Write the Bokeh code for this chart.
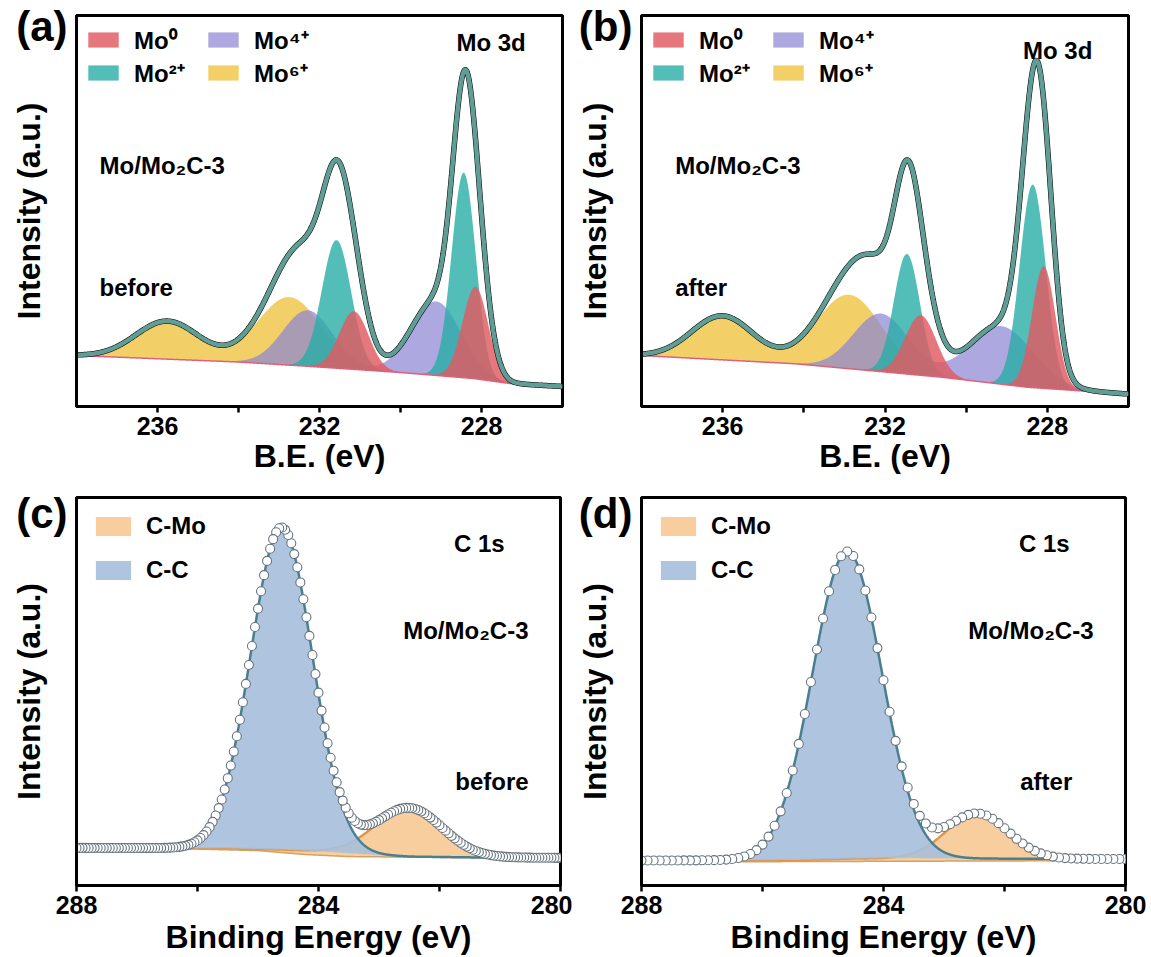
import numpy as np
from bokeh.plotting import figure
from bokeh.models import Range1d, FixedTicker, Legend, LegendItem, Label
from bokeh.layouts import row, column
from bokeh.embed import file_html
from bokeh.resources import INLINE

FONT = "Liberation Sans"

# ---------------- values ----------------
# Mo 3d peaks: [3d5/2, 3d3/2] centre (eV), height (px above background), FWHM (eV)
mo_labels = ["Mo⁰", "Mo²⁺", "Mo⁴⁺", "Mo⁶⁺"]
mo_colors = ["#e05a60", "#28aca6", "#8d86d4", "#f0c23c"]
mo_alpha = [0.82, 0.80, 0.72, 0.78]

# panel (a) - before
a_mo0_center = [228.15, 231.15]; a_mo0_height = [92, 58];  a_mo0_fwhm = [0.75, 0.85]
a_mo2_center = [228.44, 231.58]; a_mo2_height = [205, 128]; a_mo2_fwhm = [0.70, 0.85]
a_mo4_center = [229.12, 232.29]; a_mo4_height = [74, 56];  a_mo4_fwhm = [1.45, 1.45]
a_mo6_center = [232.74, 235.75]; a_mo6_height = [68, 38];  a_mo6_fwhm = [1.85, 1.85]
a_bg_energy = [226, 227.3, 228.2, 230, 232.2, 234, 238]
a_bg_level = [20, 23, 28, 34, 40, 44.5, 51]

# panel (b) - after
b_mo0_center = [228.09, 231.12]; b_mo0_height = [122, 60];  b_mo0_fwhm = [0.68, 0.90]
b_mo2_center = [228.36, 231.46]; b_mo2_height = [203, 120]; b_mo2_fwhm = [0.75, 0.75]
b_mo4_center = [229.13, 232.10]; b_mo4_height = [58, 58];  b_mo4_fwhm = [1.85, 1.60]
b_mo6_center = [232.88, 236.00]; b_mo6_height = [74, 44];  b_mo6_fwhm = [1.90, 1.80]
b_bg_energy = [226.1, 228.5, 230.6, 234.2, 238]
b_bg_level = [12.7, 19.3, 29.3, 42.7, 51]

# C 1s peaks: centre, height, FWHM
c_labels = ["C-Mo", "C-C"]
c_colors = ["#f8c994", "#a8c0dc"]
c_line_colors = ["#e39345", "#4a7f90"]

c_cmo = [282.51, 48.7, 1.30]
c_cc = [284.61, 323.0, 1.20]
c_bg_energy = [280, 281.5, 282.5, 283.0, 283.5, 284.0, 284.6, 285.5, 288]
c_bg_level = [27.7, 28.2, 29.0, 30.5, 32.5, 34.3, 36.0, 37.3, 37.7]
c_low_energy = [280, 282, 283.5, 284.2, 285, 286, 288]
c_low_level = [27.7, 28.2, 29.0, 31.0, 35.0, 36.5, 37.5]
c_step = 0.05

d_cmo = [282.45, 45.0, 1.20]
d_cc = [284.60, 308.0, 1.35]
d_bg_energy = [280, 282.5, 283.5, 284.5, 285.5, 288]
d_bg_level = [26.5, 27.0, 27.5, 27.0, 25.5, 25.0]
d_low_energy = [280, 288]
d_low_level = [25.0, 23.5]
d_step = 0.10

mo_xticks = [236, 232, 228]
mo_xminor = [234, 230]
c_xticks = [288, 284, 280]
c_xminor = [286, 282]
panel_tag_level = 380


def gauss(E, centers, heights, fwhms):
    out = np.zeros_like(E)
    for c, h, w in zip(centers, heights, fwhms):
        s = w / 2.3548
        out += h * np.exp(-((E - c) ** 2) / (2 * s * s))
    return out


def style(p, xticks, xminor, xlabel, tag, tag_w, xl_standoff):
    p.xgrid.visible = False
    p.ygrid.visible = False
    p.outline_line_color = "black"
    p.outline_line_width = 3
    p.background_fill_color = "white"
    p.border_fill_color = "white"
    xa = p.xaxis[0]
    xa.ticker = FixedTicker(ticks=xticks, minor_ticks=xminor)
    xa.axis_line_width = 3
    xa.major_tick_line_width = 2.5
    xa.minor_tick_line_width = 2.5
    xa.major_tick_out = 6
    xa.major_tick_in = 0
    xa.minor_tick_out = 6
    xa.minor_tick_in = 0
    xa.major_label_standoff = 4
    xa.major_label_text_font = FONT
    xa.major_label_text_font_style = "bold"
    xa.major_label_text_font_size = "25px"
    xa.major_label_text_color = "black"
    xa.axis_label = xlabel
    xa.axis_label_text_font = FONT
    xa.axis_label_text_font_style = "bold"
    xa.axis_label_text_font_size = "32px"
    xa.axis_label_text_color = "black"
    xa.axis_label_standoff = xl_standoff
    # left axis: no ticks; its single tick label carries the panel tag "(a)" etc.
    ya = p.yaxis[0]
    ya.ticker = FixedTicker(ticks=[panel_tag_level], minor_ticks=[])
    ya.major_label_overrides = {panel_tag_level: tag}
    ya.axis_line_width = 3
    ya.major_tick_line_color = None
    ya.minor_tick_line_color = None
    ya.major_tick_out = 0
    ya.major_tick_in = 0
    ya.minor_tick_out = 0
    ya.minor_tick_in = 0
    ya.major_label_standoff = 9
    ya.major_label_text_font = FONT
    ya.major_label_text_font_style = "bold"
    ya.major_label_text_font_size = "42px"
    ya.major_label_text_color = "black"
    ya.axis_label = "Intensity (a.u.)"
    ya.axis_label_text_font = FONT
    ya.axis_label_text_font_style = "bold"
    ya.axis_label_text_font_size = "32px"
    ya.axis_label_text_color = "black"
    ya.axis_label_standoff = 26 - 9 - tag_w


def add_text(p, x, y, txt, size="24px"):
    p.add_layout(Label(x=x, y=y, text=txt, text_font=FONT, text_font_style="bold",
                       text_font_size=size, text_color="black",
                       text_align="left", text_baseline="alphabetic"))


def mo_panel(peaks, bg_e, bg_v, width, left, right, tag, tag_w, state, pos):
    p = figure(width=width, height=486, x_range=Range1d(238, 226), y_range=Range1d(0, 391),
               output_backend="svg", toolbar_location=None,
               min_border_left=left, min_border_right=right, min_border_top=15, min_border_bottom=80)
    style(p, mo_xticks, mo_xminor, "B.E. (eV)", tag, tag_w, 0)
    E = np.linspace(226, 238, 1201)
    bg = np.interp(E, bg_e, bg_v)
    comps = [gauss(E, *pk) for pk in peaks]
    rmap = {}
    for i in [3, 2, 1, 0]:
        rmap[i] = p.varea(x=E, y1=bg, y2=bg + comps[i], fill_color=mo_colors[i], fill_alpha=mo_alpha[i])
    total = bg + sum(comps)
    p.line(E, bg, line_color="#e0607a", line_width=1.5)
    p.line(E, total, line_color="black", line_width=5.5)
    p.line(E, total, line_color="#5f9d95", line_width=4.5)
    items = [LegendItem(label=mo_labels[i], renderers=[rmap[i]]) for i in range(4)]
    leg = Legend(items=items, location="top_left", orientation="vertical", ncols=2,
                 glyph_width=38, glyph_height=19, label_standoff=12, spacing=-6,
                 label_width=70, padding=0, margin=8, background_fill_alpha=0,
                 border_line_color=None,
                 label_text_font=FONT, label_text_font_style="bold",
                 label_text_font_size="24px", label_text_color="black")
    p.add_layout(leg)
    add_text(p, pos[0], pos[1], "Mo 3d")
    add_text(p, pos[2], 241, "Mo/Mo₂C-3")
    add_text(p, pos[2], 119, state)
    return p


def c_panel(cmo, cc, bg_e, bg_v, low_e, low_v, step, width, left, right, tag, tag_w, state):
    p = figure(width=width, height=471, x_range=Range1d(288, 280), y_range=Range1d(0, 389),
               output_backend="svg", toolbar_location=None,
               min_border_left=left, min_border_right=right, min_border_top=11, min_border_bottom=71)
    style(p, c_xticks, c_xminor, "Binding Energy (eV)", tag, tag_w, 2)
    E = np.linspace(280, 288, 1601)
    bg = np.interp(E, bg_e, bg_v)
    low = np.interp(E, low_e, low_v)
    g_mo = gauss(E, [cmo[0]], [cmo[1]], [cmo[2]])
    g_cc = gauss(E, [cc[0]], [cc[1]], [cc[2]])
    r_mo = p.varea(x=E, y1=low, y2=bg + g_mo, fill_color=c_colors[0], fill_alpha=0.9)
    p.line(E, low, line_color="#d9a060", line_width=1.5)
    p.line(E, bg + g_mo, line_color=c_line_colors[0], line_width=2.5)
    r_cc = p.varea(x=E, y1=bg, y2=bg + g_cc, fill_color=c_colors[1], fill_alpha=0.92)
    p.line(E, bg + g_cc, line_color=c_line_colors[1], line_width=2.5)
    Ep = np.arange(280.0, 288.0 + step / 2, step)
    dp = (np.interp(Ep, bg_e, bg_v) + gauss(Ep, [cmo[0]], [cmo[1]], [cmo[2]])
          + gauss(Ep, [cc[0]], [cc[1]], [cc[2]]))
    p.scatter(Ep, dp, marker="circle", size=9, fill_color="white", line_color="#66737f", line_width=1.1)
    items = [LegendItem(label=c_labels[0], renderers=[r_mo]), LegendItem(label=c_labels[1], renderers=[r_cc])]
    leg = Legend(items=items, location="top_left", orientation="vertical",
                 glyph_width=44, glyph_height=24, label_standoff=11, spacing=16,
                 padding=0, margin=15, background_fill_alpha=0, border_line_color=None,
                 label_text_font=FONT, label_text_font_style="bold",
                 label_text_font_size="24px", label_text_color="black")
    p.add_layout(leg)
    add_text(p, 281.76, 343, "C 1s")
    add_text(p, 282.6, 256, "Mo/Mo₂C-3")
    add_text(p, 281.74, 104, state)
    return p


pa = mo_panel([(a_mo0_center, a_mo0_height, a_mo0_fwhm), (a_mo2_center, a_mo2_height, a_mo2_fwhm),
               (a_mo4_center, a_mo4_height, a_mo4_fwhm), (a_mo6_center, a_mo6_height, a_mo6_fwhm)],
              a_bg_energy, a_bg_level, 572, 76, 10, "(a)", 51, "before", (228.62, 364, 237.43))
pb = mo_panel([(b_mo0_center, b_mo0_height, b_mo0_fwhm), (b_mo2_center, b_mo2_height, b_mo2_fwhm),
               (b_mo4_center, b_mo4_height, b_mo4_fwhm), (b_mo6_center, b_mo6_height, b_mo6_fwhm)],
              b_bg_energy, b_bg_level, 579, 69, 23, "(b)", 54, "after", (228.6, 356, 237.17))
pc = c_panel(c_cmo, c_cc, c_bg_energy, c_bg_level, c_low_energy, c_low_level, c_step,
             572, 76, 12, "(c)", 51, "before")
pd = c_panel(d_cmo, d_cc, d_bg_energy, d_bg_level, d_low_energy, d_low_level, d_step,
             579, 69, 26, "(d)", 54, "after")

layout = column(row(pa, pb), row(pc, pd))
open("out.html", "w").write(file_html(layout, INLINE))
